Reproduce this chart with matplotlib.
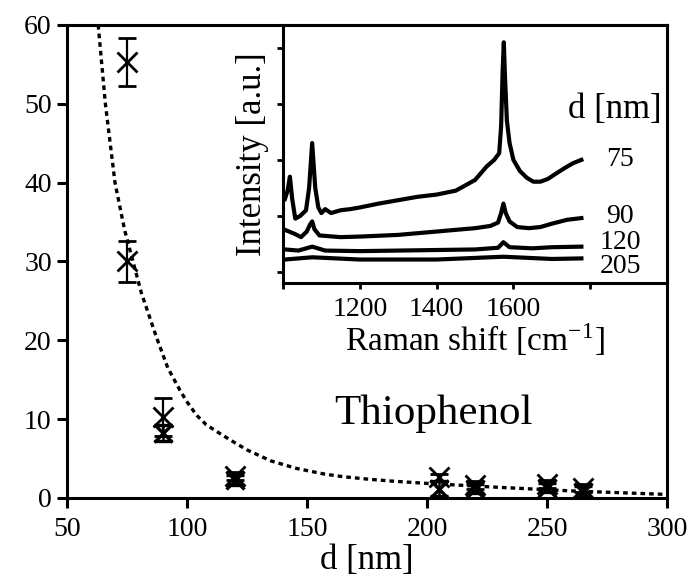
import matplotlib
matplotlib.use("Agg")
import matplotlib.pyplot as plt

# ---- main data ----
d_a = [75, 75, 90, 120, 205, 220, 250, 265]
y_a = [55.3, 30.0, 10.3, 2.8, 2.6, 1.6, 1.8, 1.3]
e_a = [3.0, 2.6, 2.4, 0.5, 0.5, 0.5, 0.5, 0.5]

d_b = [90, 120, 205, 220, 250, 265]
y_b = [8.2, 2.3, 1.2, 1.2, 1.3, 0.8]
e_b = [1.0, 0.6, 0.9, 0.6, 0.6, 0.7]

fit_d = [63, 66, 70, 74, 77.5, 81, 87.5, 92, 97, 100, 104, 108, 114.6, 120, 125, 135, 145.6,
         157, 165, 175, 185, 200, 215, 230, 260, 300]
fit_y = [60, 50, 40, 34, 30, 26, 20.2, 16.5, 13.7, 12.2, 10.5, 9.3, 8.0, 7.0, 6.1, 4.7, 3.75,
         3.05, 2.7, 2.4, 2.15, 1.85, 1.6, 1.35, 0.9, 0.45]

x_ticks = [50, 100, 150, 200, 250, 300]
y_ticks = [0, 10, 20, 30, 40, 50, 60]

# ---- inset spectra ----
wn75 = [1005, 1012, 1018, 1024, 1032, 1045, 1060, 1068, 1076, 1084, 1092, 1100, 1110, 1125, 1150,
        1175, 1200, 1250, 1300, 1350, 1400, 1450, 1500, 1530, 1550, 1563, 1568, 1572, 1575, 1578,
        1583, 1590, 1600, 1617, 1635, 1652, 1670, 1690, 1712, 1735, 1755, 1777]
I75 = [1.3, 1.45, 1.7, 1.3, 0.95, 1.0, 1.1, 1.5, 2.3, 1.5, 1.15, 1.05, 1.12, 1.05, 1.1,
       1.12, 1.15, 1.22, 1.28, 1.34, 1.38, 1.45, 1.64, 1.88, 2.0, 2.12, 2.6, 3.6, 4.1, 3.5,
       2.7, 2.3, 2.0, 1.8, 1.68, 1.61, 1.61, 1.66, 1.76, 1.86, 1.94, 2.0]

wn90 = [1005, 1030, 1047, 1062, 1070, 1076, 1082, 1095, 1150, 1200, 1300, 1400, 1500, 1540, 1560,
        1568, 1574, 1580, 1590, 1610, 1640, 1670, 1700, 1740, 1777]
I90 = [0.75, 0.68, 0.62, 0.72, 0.84, 0.9, 0.76, 0.65, 0.62, 0.63, 0.66, 0.72, 0.78, 0.82, 0.88,
       1.05, 1.22, 1.05, 0.9, 0.8, 0.78, 0.8, 0.86, 0.93, 0.96]

wn120 = [1005, 1040, 1076, 1110, 1200, 1300, 1400, 1500, 1560, 1574, 1590, 1650, 1700, 1777]
I120 = [0.4, 0.38, 0.45, 0.38, 0.37, 0.38, 0.39, 0.4, 0.43, 0.53, 0.44, 0.42, 0.44, 0.45]

wn205 = [1005, 1076, 1200, 1400, 1574, 1700, 1777]
I205 = [0.22, 0.26, 0.22, 0.22, 0.27, 0.23, 0.24]

inset_labels = ["75", "90", "120", "205"]
inset_label_y = [2.0, 0.98, 0.52, 0.09]

plt.rcParams['font.family'] = ['Liberation Serif', 'DejaVu Serif']
plt.rcParams['mathtext.fontset'] = 'stix'

fig = plt.figure(figsize=(6.97, 5.8), dpi=100)
ax = fig.add_axes([0.0961, 0.1414, 0.957 - 0.0961, 0.957 - 0.1414])

ax.plot(fit_d, fit_y, color='black', lw=2.4, linestyle=(0, (1.4, 1.2)))
ax.errorbar(d_a, y_a, yerr=e_a, fmt='x', color='black', ms=15, mew=2.0,
            elinewidth=1.6, capsize=6.5, capthick=1.8)
ax.errorbar(d_b, y_b, yerr=e_b, fmt='x', color='black', ms=13, mew=2.4,
            elinewidth=1.8, capsize=6.5, capthick=2.4)

ax.set_xlim(50, 300)
ax.set_ylim(0, 60)
ax.set_xticks(x_ticks)
ax.set_yticks(y_ticks)
ax.tick_params(direction='out', length=7, width=2.2, labelsize=20, pad=4,
               top=False, right=False)
ax.tick_params(axis='x', pad=7)
for s in ax.spines.values():
    s.set_linewidth(2.2)
ax.set_xlabel("d [nm]", fontsize=25, labelpad=1)
ax.text(0.445, 0.178, "Thiophenol", transform=ax.transAxes, fontsize=31,
        ha='left', va='center')

# inset
ins = fig.add_axes([0.406, 0.512, 0.957 - 0.406, 0.957 - 0.512])
for wn, I in [(wn75, I75), (wn90, I90), (wn120, I120), (wn205, I205)]:
    ins.plot(wn, I, color='black', lw=3.0)
ins.set_xlim(1000, 2000)
ins.set_ylim(-0.2, 4.41)
ins.set_xticks([1000, 1200, 1400, 1600, 1800])
ins.set_xticklabels(['', '1200', '1400', '1600', ''])
ins.set_yticks([0, 1, 2, 3, 4])
ins.set_yticklabels([])
ins.tick_params(direction='out', length=4, width=2.0, labelsize=20, pad=6)
for s in ins.spines.values():
    s.set_linewidth(2.2)
ins.set_xlabel("Raman shift [cm$^{\\mathregular{-1}}$]", fontsize=24, labelpad=0)
ins.set_ylabel("Intensity [a.u.]", fontsize=25, labelpad=0)
ins.text(1865, 2.9, "d [nm]", fontsize=25, ha='center', va='center')
for lab, ly in zip(inset_labels, inset_label_y):
    ins.text(1878, ly, lab, fontsize=20, ha='center', va='center')

fig.savefig("out.png", dpi=100)
